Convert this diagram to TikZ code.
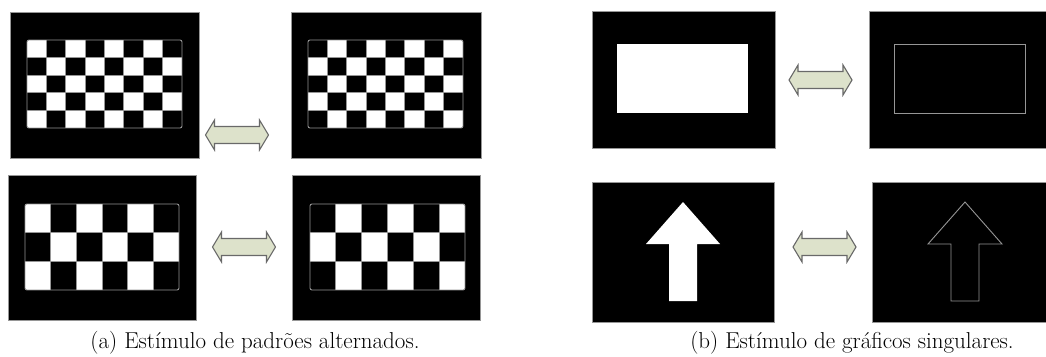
\documentclass[tikz,border=0pt]{standalone}
\usepackage{tikz}
\usetikzlibrary{positioning}

\definecolor{arrowfill}{RGB}{221,226,203}
\definecolor{arrowline}{RGB}{105,105,105}
\definecolor{gridline}{RGB}{150,150,150}

\tikzset{
  panel/.style={fill=black, draw=gridline, line width=0.8pt},
  swaparrow/.style={fill=arrowfill, draw=arrowline, line width=1.1pt, line join=miter},
  gridstroke/.style={draw=gridline, line width=0.9pt},
  captiontext/.style={font=\fontsize{23}{25}\selectfont, anchor=base, inner sep=0pt},
}

% checkerboard: x0 y0 x1 y1 cols rows start(0=white,1=black)
\newcommand{\checkerboard}[7]{%
  \fill[white] (#1,#2) rectangle (#3,#4);
  \pgfmathsetmacro\cellw{(#3-#1)/#5}
  \pgfmathsetmacro\cellh{(#4-#2)/#6}
  \foreach \i in {1,...,#5}{
    \foreach \j in {1,...,#6}{
      \pgfmathtruncatemacro\cellodd{mod(\i+\j+#7,2)}
      \ifnum\cellodd=1
        \fill[black] (#1+\i*\cellw-\cellw,#2+\j*\cellh-\cellh) rectangle ++(\cellw,\cellh);
      \fi
    }
  }
  \pgfmathtruncatemacro\ncol{#5-1}
  \pgfmathtruncatemacro\nrow{#6-1}
  \foreach \i in {1,...,\ncol}
    \draw[gridstroke] (#1+\i*\cellw,#2) -- (#1+\i*\cellw,#4);
  \foreach \j in {1,...,\nrow}
    \draw[gridstroke] (#1,#2+\j*\cellh) -- (#3,#2+\j*\cellh);
  \draw[gridstroke, rounded corners=2pt] (#1,#2) rectangle (#3,#4);
}

% double arrow centred at (#1,#2)
\newcommand{\swaparrowat}[2]{%
  \begin{scope}[shift={(#1,#2)}]
    \draw[swaparrow] (-31.5,0) -- (-22.5,-15) -- (-22.5,-8.5) -- (22.5,-8.5)
      -- (22.5,-15) -- (31.5,0) -- (22.5,15) -- (22.5,8.5) -- (-22.5,8.5)
      -- (-22.5,15) -- cycle;
  \end{scope}
}

\begin{document}
\begin{tikzpicture}[x=1pt, y=-1pt]
  \useasboundingbox (0,0) rectangle (1046,356);

  % (a) alternating patterns
  \draw[panel] (10,12) rectangle (199,158);
  \checkerboard{27}{40}{182}{128}{8}{5}{0}
  \draw[panel] (291,12) rectangle (481,158);
  \checkerboard{308}{40}{463}{128}{8}{5}{1}
  \swaparrowat{237}{135}

  \draw[panel] (8,175) rectangle (196,320);
  \checkerboard{25}{204}{179}{290}{6}{3}{0}
  \draw[panel] (292,175) rectangle (480,320);
  \checkerboard{310}{204}{465}{290}{6}{3}{1}
  \swaparrowat{244}{247}

  % (b) single graphics
  \draw[panel] (592,11) rectangle (775,148);
  \fill[white] (617,44) rectangle (748,113);
  \draw[panel] (869,11) rectangle (1046,148);
  \draw[gridstroke] (894,44) rectangle (1025,113);
  \swaparrowat{820.5}{80}

  \draw[panel] (592,182) rectangle (774,322);
  \begin{scope}[shift={(683,202)}]
    \fill[white] (0,0) -- (37,42) -- (14,42) -- (14,99) -- (-14,99)
      -- (-14,42) -- (-37,42) -- cycle;
  \end{scope}
  \draw[panel] (872,182) rectangle (1046,322);
  \begin{scope}[shift={(965,202)}]
    \draw[gridstroke] (0,0) -- (37,42) -- (14,42) -- (14,99) -- (-14,99)
      -- (-14,42) -- (-37,42) -- cycle;
  \end{scope}
  \swaparrowat{824.5}{247}

  % captions
  \node[captiontext] (capa) at (255,348) {(a) Estímulo de padrões alternados.};
  \node[captiontext] (capb) at (852,348) {(b) Estímulo de gráficos singulares.};
\end{tikzpicture}
\end{document}
